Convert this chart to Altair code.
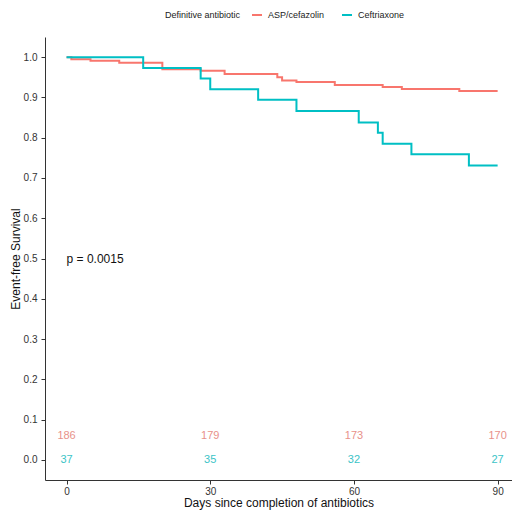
import pandas as pd
import altair as alt

# Kaplan-Meier step values
days_asp = [0, 1, 5, 11, 20, 28, 33, 44, 45, 48, 56, 66, 70, 82, 90]
surv_asp = [1.0, 0.995, 0.991, 0.986, 0.970, 0.966, 0.958, 0.950, 0.942, 0.938, 0.931, 0.926, 0.921, 0.916, 0.916]

days_cef = [0, 16, 28, 30, 40, 48, 61, 65, 66, 72, 84, 90]
surv_cef = [1.0, 0.973, 0.947, 0.920, 0.894, 0.866, 0.838, 0.812, 0.785, 0.759, 0.731, 0.731]

groups = ["ASP/cefazolin", "Ceftriaxone"]
colors = ["#F8766D", "#00BFC4"]

# numbers at risk
risk_days = [0, 30, 60, 90]
risk_asp = [186, 179, 173, 170]
risk_cef = [37, 35, 32, 27]

font = "Liberation Sans"

curves = pd.concat([
    pd.DataFrame({"day": days_asp, "surv": surv_asp, "group": groups[0]}),
    pd.DataFrame({"day": days_cef, "surv": surv_cef, "group": groups[1]}),
])

x_scale = alt.Scale(domain=[-4.5, 93.0], nice=False, zero=False)
y_scale = alt.Scale(domain=[-0.05, 1.05], nice=False, zero=False)

lines = alt.Chart(curves).mark_line(interpolate="step-after", strokeWidth=2).encode(
    alt.X("day:Q", scale=x_scale, title="Days since completion of antibiotics",
          axis=alt.Axis(values=[0, 30, 60, 90], labelPadding=2, titlePadding=1)),
    alt.Y("surv:Q", scale=y_scale, title="Event-free Survival",
          axis=alt.Axis(values=[i / 10 for i in range(11)], format=".1f", titlePadding=1)),
    alt.Color("group:N", scale=alt.Scale(domain=groups, range=colors),
              legend=alt.Legend(title="Definitive antibiotic", orient="none",
                                direction="horizontal", titleOrient="left",
                                legendX=120, legendY=-28, symbolType="stroke",
                                symbolSize=100, symbolStrokeWidth=2,
                                columnPadding=13, labelOffset=5,
                                titleFontSize=9, labelFontSize=9,
                                titleFontWeight="normal", titlePadding=10,
                                titleFont=font, labelFont=font,
                                titleColor="#222", labelColor="#222")),
)

risk_a = alt.Chart(pd.DataFrame({"day": risk_days, "n": risk_asp, "y": 0.06})).mark_text(
    fontSize=11, font=font, color="#E8918A"
).encode(x=alt.X("day:Q", scale=x_scale), y=alt.Y("y:Q", scale=y_scale), text="n:Q")

risk_c = alt.Chart(pd.DataFrame({"day": risk_days, "n": risk_cef, "y": 0.0})).mark_text(
    fontSize=11, font=font, color="#3CC4C7"
).encode(x=alt.X("day:Q", scale=x_scale), y=alt.Y("y:Q", scale=y_scale), text="n:Q")

ptext = alt.Chart(pd.DataFrame({"day": [0], "y": [0.5], "t": ["p = 0.0015"]})).mark_text(
    fontSize=12, font=font, align="left", color="#111"
).encode(x=alt.X("day:Q", scale=x_scale), y=alt.Y("y:Q", scale=y_scale), text="t:N")

chart = (lines + risk_a + risk_c + ptext).properties(
    width=467, height=443,
    autosize=alt.AutoSizeParams(type="none"),
    padding={"left": 37, "top": 29, "right": 0, "bottom": 32},
).configure_view(stroke=None).configure_axis(
    grid=False, domainColor="#333", tickColor="#333", tickSize=4,
    labelFont=font, titleFont=font, labelFontSize=10, titleFontSize=12,
    labelColor="#333", titleColor="#111", titleFontWeight="normal",
    labelPadding=4, titlePadding=3,
)

chart.save("out.html", embed_options={"renderer": "svg", "actions": False})
